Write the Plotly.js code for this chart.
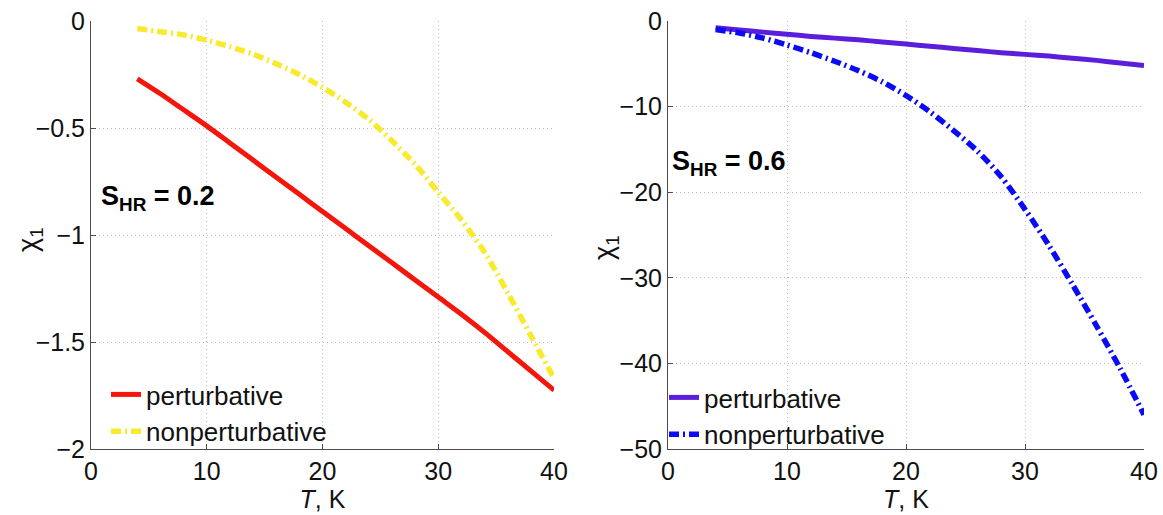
<!DOCTYPE html>
<html>
<head>
<meta charset="utf-8">
<script src="https://cdn.plot.ly/plotly-3.0.1.min.js"></script>
<style>html,body{margin:0;padding:0;background:#fff;}#chart{width:1163px;height:515px;}</style>
</head>
<body>
<div id="chart"></div>
<script>
// Left panel: S_HR = 0.2
const T_left = [4, 6, 8, 10, 12, 14, 16, 18, 20, 22, 24, 26, 28, 30, 32, 34, 36, 38, 40];
const pertLeft = [-0.27, -0.34, -0.415, -0.49, -0.57, -0.65, -0.73, -0.81, -0.89, -0.97, -1.05, -1.13, -1.21, -1.29, -1.37, -1.455, -1.545, -1.635, -1.725];
const nonpertLeft = [-0.035, -0.05, -0.065, -0.09, -0.12, -0.155, -0.20, -0.25, -0.31, -0.38, -0.46, -0.56, -0.67, -0.80, -0.93, -1.08, -1.27, -1.47, -1.67];

// Right panel: S_HR = 0.6
const T_right = [4, 6, 8, 10, 12, 14, 16, 18, 20, 22, 24, 26, 28, 30, 32, 34, 36, 38, 40];
const pertRight = [-0.8, -1.05, -1.3, -1.55, -1.8, -2.0, -2.2, -2.45, -2.7, -2.95, -3.2, -3.45, -3.7, -3.9, -4.1, -4.35, -4.6, -4.9, -5.2];
const nonpertRight = [-1.0, -1.4, -2.0, -2.8, -3.7, -4.7, -5.8, -7.1, -8.7, -10.6, -12.8, -15.2, -18.2, -22.0, -26.2, -30.8, -35.6, -40.6, -46.0];

const seriesNames = ['perturbative', 'nonperturbative'];
const panelLabels = ['<b>S<sub>HR</sub> = 0.2</b>', '<b>S<sub>HR</sub> = 0.6</b>'];
const xTitle = '<i>T</i>, K';
const yTitle = 'χ<sub>1</sub>';

const FONT = 'Liberation Sans, Arial, Helvetica, sans-serif';
const W = 1163, H = 515;
const px = v => v / W;
const py = v => 1 - v / H;
const DASHDOT = '10px,4px,2px,4px';

const traces = [
  {x: T_left, y: pertLeft, name: seriesNames[0], xaxis: 'x', yaxis: 'y', mode: 'lines',
   line: {color: '#f5160b', width: 5, shape: 'spline', smoothing: 0.8}, legend: 'legend'},
  {x: T_left, y: nonpertLeft, name: seriesNames[1], xaxis: 'x', yaxis: 'y', mode: 'lines',
   line: {color: '#f8ea2e', width: 5.5, dash: DASHDOT, shape: 'spline', smoothing: 0.8}, legend: 'legend'},
  {x: T_right, y: pertRight, name: seriesNames[0], xaxis: 'x2', yaxis: 'y2', mode: 'lines',
   line: {color: '#5b1fdc', width: 5, shape: 'spline', smoothing: 0.8}, legend: 'legend2'},
  {x: T_right, y: nonpertRight, name: seriesNames[1], xaxis: 'x2', yaxis: 'y2', mode: 'lines',
   line: {color: '#0a0af5', width: 5.5, dash: DASHDOT, shape: 'spline', smoothing: 0.8}, legend: 'legend2'}
];

function xa(domain, anchor) {
  return {
    domain: domain, anchor: anchor, range: [0, 40], dtick: 10, tick0: 0,
    ticks: 'inside', ticklen: 5, tickcolor: '#4d4d4d',
    showline: true, linecolor: '#4d4d4d', linewidth: 1, mirror: false,
    showgrid: true, gridcolor: '#bdbdbd', griddash: '1px,3px', gridwidth: 1,
    zeroline: false, tickfont: {family: FONT, size: 25, color: '#111'},
    title: {text: xTitle, font: {family: FONT, size: 25, color: '#111'}, standoff: 2}
  };
}
function ya(domain, anchor, range, dtick) {
  return {
    domain: domain, anchor: anchor, range: range, dtick: dtick,
    ticks: 'inside', ticklen: 5, tickcolor: '#4d4d4d',
    showline: true, linecolor: '#4d4d4d', linewidth: 1, mirror: false,
    showgrid: true, gridcolor: '#bdbdbd', griddash: '1px,3px', gridwidth: 1,
    zeroline: false, tickfont: {family: FONT, size: 25, color: '#111'}
  };
}

const yDom = [py(449), py(21)];
const layout = {
  width: W, height: H,
  margin: {l: 0, r: 0, t: 0, b: 0},
  paper_bgcolor: '#fff', plot_bgcolor: '#fff',
  font: {family: FONT, color: '#111'},
  xaxis: xa([px(91), px(554)], 'y'),
  yaxis: ya(yDom, 'x', [-2, 0], 0.5),
  xaxis2: xa([px(668), px(1144)], 'y2'),
  yaxis2: ya(yDom, 'x2', [-50, 0], 10),
  showlegend: true,
  legend: {x: px(106), y: py(371), xanchor: 'left', yanchor: 'top', xref: 'paper', yref: 'paper',
           bgcolor: 'rgba(0,0,0,0)', font: {family: FONT, size: 26, color: '#111'}, tracegroupgap: 0},
  legend2: {x: px(664), y: py(374), xanchor: 'left', yanchor: 'top', xref: 'paper', yref: 'paper',
           bgcolor: 'rgba(0,0,0,0)', font: {family: FONT, size: 26, color: '#111'}, tracegroupgap: 0},
  annotations: [
    {text: panelLabels[0], xref: 'paper', yref: 'paper', x: px(99), y: py(198), xanchor: 'left', yanchor: 'middle',
     showarrow: false, font: {family: FONT, size: 27, color: '#000'}},
    {text: panelLabels[1], xref: 'paper', yref: 'paper', x: px(670), y: py(163), xanchor: 'left', yanchor: 'middle',
     showarrow: false, font: {family: FONT, size: 27, color: '#000'}},
    {text: yTitle, xref: 'paper', yref: 'paper', x: px(30), y: py(240), xanchor: 'center', yanchor: 'middle',
     textangle: -90, showarrow: false, font: {family: FONT, size: 27, color: '#111'}},
    {text: yTitle, xref: 'paper', yref: 'paper', x: px(606), y: py(248), xanchor: 'center', yanchor: 'middle',
     textangle: -90, showarrow: false, font: {family: FONT, size: 27, color: '#111'}}
  ]
};

Plotly.newPlot('chart', traces, layout, {staticPlot: true, displayModeBar: false});
</script>
</body>
</html>
